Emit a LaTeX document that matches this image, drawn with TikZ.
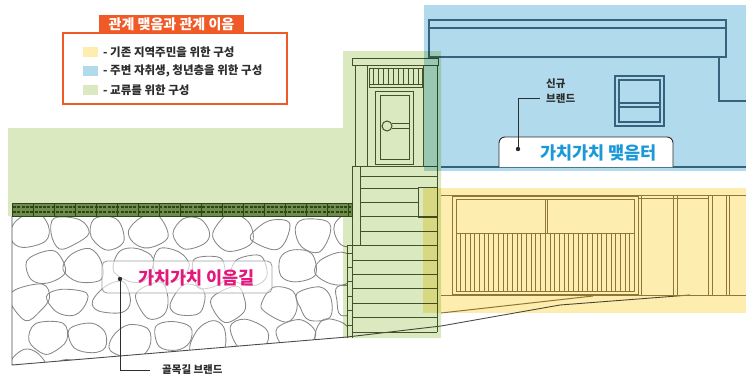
\documentclass[tikz,border=0pt]{standalone}
\usepackage{fontspec}
\newfontfamily\kr{Noto Sans CJK KR}
\usetikzlibrary{calc}

\definecolor{lawn}{RGB}{218,233,192}
\definecolor{sky}{RGB}{178,218,237}
\definecolor{sand}{RGB}{253,237,175}
\definecolor{tagorange}{RGB}{240,90,38}
\definecolor{stoneline}{RGB}{135,135,135}
\definecolor{colline}{RGB}{80,90,55}
\definecolor{bline}{RGB}{80,115,135}
\definecolor{yline}{RGB}{145,128,80}
\definecolor{hedgebg}{RGB}{112,140,75}
\definecolor{hedgedk}{RGB}{45,70,25}
\definecolor{meetblue}{RGB}{27,152,215}
\definecolor{roadpink}{RGB}{228,24,124}
\definecolor{ink}{RGB}{45,45,45}

\begin{document}
\begin{tikzpicture}[x=1pt,y=-1pt,
  stone/.style={draw=stoneline, line width=0.85pt},
  colart/.style={draw=colline, line width=1pt},
  bart/.style={draw=bline, line width=1.2pt},
  yart/.style={draw=yline, line width=1pt},
  groundln/.style={draw=ink!85, line width=0.9pt},
  leader/.style={draw=ink, line width=0.9pt},
  legtext/.style={font=\kr\bfseries\fontsize{11.5}{13}\selectfont, text=ink, anchor=west, inner sep=0pt},
  smalltag/.style={font=\kr\bfseries\fontsize{10.5}{15}\selectfont, text=ink, inner sep=0pt, align=left}
]
\useasboundingbox (0,0) rectangle (746,378);

% ---------- paving stones of the alley ----------
\begin{scope}
  \clip (12,216) -- (347,216) -- (347,337) -- (12,365) -- cycle;
  \pgfmathsetseed{57}
  \foreach \row in {0,...,4}{
    \foreach \col in {0,...,8}{
      \pgfmathsetmacro\scx{27+41*\col+20*mod(\row,2)+4*rand}
      \pgfmathsetmacro\scy{232+35*\row+3*rand}
      \pgfmathsetmacro\sph{60*rnd}
      \pgfmathsetmacro\sphb{\sph+60+14*rand}
      \pgfmathsetmacro\sphc{\sph+120+14*rand}
      \pgfmathsetmacro\sphd{\sph+180+14*rand}
      \pgfmathsetmacro\sphe{\sph+240+14*rand}
      \pgfmathsetmacro\sphf{\sph+300+14*rand}
      \pgfmathsetmacro\sra{17.5+4*rand}
      \pgfmathsetmacro\srb{17.5+4*rand}
      \pgfmathsetmacro\src{17.5+4*rand}
      \pgfmathsetmacro\srd{17.5+4*rand}
      \pgfmathsetmacro\sre{17.5+4*rand}
      \pgfmathsetmacro\srf{17.5+4*rand}
      \draw[stone, shift={(\scx,\scy)}, xscale=1.08, yscale=0.95]
        plot[smooth cycle, tension=0.6] coordinates
        {(\sph:\sra) (\sphb:\srb) (\sphc:\src) (\sphd:\srd) (\sphe:\sre) (\sphf:\srf)};
    }
  }
\end{scope}

% ground and road edges
\draw[groundln] (12,216) -- (12,365) -- (347,337) -- (441,326) -- (560,305) -- (690,295);
\draw[yart] (441,313) -- (593,296);

% ---------- doorway and stairs ----------
\draw[colart] (352,58) rectangle (438,65);
\draw[colart] (355,65) -- (355,166) (367,65) -- (367,166)
              (423,65) -- (423,166) (437,65) -- (437,332);
\draw[colart] (369,68) rectangle (422,87) (369,84.5) -- (422,84.5);
\foreach \x in {373.5,378.5,...,419} \draw[colart, line width=0.7pt] (\x,68) -- (\x,84.5);
\draw[colart] (375,91) rectangle (413,164) (380,95) rectangle (409,159.5);
\draw[colart] (392,123) -- (409,123) (392,128) -- (409,128);
\draw[colart] (387,126) circle[radius=5pt];
\draw[colart] (352,166) -- (437,166);
\draw[colart] (352,166) -- (352,245) (360,166) -- (360,245);
\foreach \y in {176,216,231} \draw[colart] (360,\y) -- (437,\y);
\foreach \y in {188,202} \draw[colart] (360,\y) -- (418,\y);
\draw[colart] (418,187) rectangle (437,217);
\draw[colart] (347,245) -- (437,245);
\draw[colart] (347,245) -- (347,338) (352,245) -- (352,338);
\foreach \y in {260,274,288,303,317,332} \draw[colart] (352,\y) -- (437,\y);
\foreach \y in {253,267,281,296,310,325} \draw[colart] (347,\y) -- (352,\y);

% ---------- upper building ----------
\draw[bart] (429,20) rectangle (726,57) (429,28) -- (726,28);
\draw[bart] (719,57) -- (719,101) -- (746,101);
\draw[bart] (615,76) rectangle (664,126) (619,80) rectangle (660,122);
\draw[bart] (619,103) -- (660,103) (619,107) -- (660,107);
\draw[bart] (441,167) -- (746,167);

% ---------- shop front ----------
\draw[yart] (441,195) -- (746,195);
\draw[yart] (452,196) rectangle (638,294) (456,199) rectangle (634,291);
\draw[yart] (456,233) -- (634,233) (545,199) -- (545,233) (547,199) -- (547,233);
\foreach \x in {460.5,465.2,...,632} \draw[yart, line width=0.6pt] (\x,234) -- (\x,291);
\foreach \x in {641,673,677,708,712,726,729} \draw[yart] (\x,196) -- (\x,295);
\draw[yart] (638,198) -- (708,198);
\draw[yart] (441,295) -- (746,295);

% ---------- colour zones ----------
\begin{scope}[blend mode=multiply]
  \fill[lawn] (8,128) -- (343,128) -- (343,51) -- (441,51) -- (441,338)
              -- (343,338) -- (343,216) -- (8,216) -- cycle;
  \fill[sky] (424,5) rectangle (746,171);
  \fill[sand] (423,188) rectangle (746,313);
\end{scope}

% hedge border
\fill[hedgebg] (12,203) rectangle (352,216);
\draw[hedgedk, line width=0.5pt] (12,203) rectangle (352,216);
\draw[hedgedk, line width=2.3pt, dash pattern=on 3pt off 1.3pt] (13,207.2) -- (352,207.2);
\draw[hedgedk, line width=2.3pt, dash pattern=on 3pt off 1.3pt] (13,212) -- (352,212);
\foreach \x in {33,54,...,350} \draw[hedgedk, line width=0.4pt] (\x,203) -- (\x,216);

% ---------- labels ----------
\draw[fill=white, draw=ink, line width=0.9pt, rounded corners=6pt]
  (499,167) -- (499,137) -- (673,137) -- (673,167);
\node[font=\kr\bfseries\fontsize{17.5}{20}\selectfont, text=meetblue, inner sep=0pt]
  (meetname) at (598.5,152.5) {가치가치 맺음터};
\coordinate (meetdot) at (518,149);
\coordinate (meetend) at (540,98);
\fill[ink] (meetdot) circle[radius=2.2pt];
\draw[leader] (meetdot) |- (meetend);
\node[smalltag, anchor=base west] (meettag) at (546,102) {신규\\브랜드};

\draw[draw=gray!75, line width=0.9pt, fill=white, fill opacity=0.6, rounded corners=5pt]
  (102,261) rectangle (272,293);
\node[font=\kr\bfseries\fontsize{17.5}{20}\selectfont, text=roadpink, inner sep=0pt]
  (roadname) at (196.5,278) {가치가치 이음길};
\coordinate (roaddot) at (120,279);
\coordinate (roadend) at (150,370);
\fill[ink] (roaddot) circle[radius=2.2pt];
\draw[leader] (roaddot) |- (roadend);
\node[smalltag, anchor=west] (roadtag) at (162,370) {골목길 브랜드};

% ---------- legend ----------
\draw[draw=tagorange, line width=1.6pt, fill=white] (63,33) rectangle (287,104);
\node[fill=tagorange, minimum width=145pt, minimum height=18pt, inner sep=0pt,
      text=white, font=\kr\bfseries\fontsize{14}{16}\selectfont]
  (legtitle) at (171.5,24) {관계 맺음과 관계 이음};
\fill[sand] (83,47) rectangle (98,57);
\fill[sky] (83,66) rectangle (98,76);
\fill[lawn] (83,85) rectangle (98,95);
\node[legtext] (legA) at (103,52) {- 기존 지역주민을 위한 구성};
\node[legtext] (legB) at (103,71) {- 주변 자취생, 청년층을 위한 구성};
\node[legtext] (legC) at (103,90) {- 교류를 위한 구성};
\end{tikzpicture}
\end{document}
